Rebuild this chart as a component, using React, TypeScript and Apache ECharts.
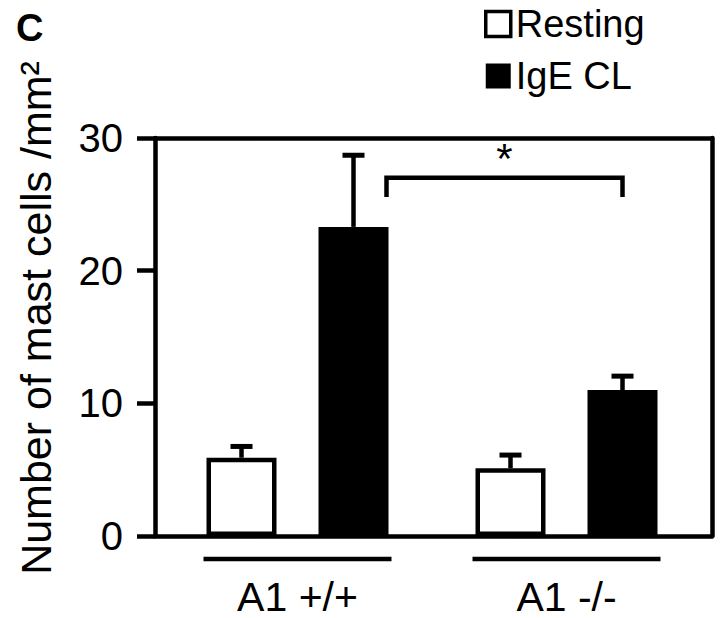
import React, { useEffect, useRef } from 'react';
import * as echarts from 'echarts';

const categories = ['A1 +/+', 'A1 -/-'];
const seriesNames = ['Resting', 'IgE CL'];
const resting = [5.9, 5.1];
const restingErr = [0.85, 1.0];
const igeCL = [23.3, 11.0];
const igeCLErr = [5.4, 1.05];
const yMin = 0;
const yMax = 30;
const yStep = 10;
const sigPair = [0, 1];
const sigLevel = 27.0;
const sigDrop = 1.45;
const sigMark = '*';
const panelLabel = 'C';
const yTitle = 'Number of mast cells /mm²';

const FONT = '"Liberation Sans", Arial, Helvetica, sans-serif';
const BAR_W = 70;
const BAR_GAP = 0.6;
const HALF_SPAN = (BAR_W * (1 + BAR_GAP)) / 2;
const LW = 4.5;

function errorRenderer(side: number) {
  return (_params: any, api: any) => {
    const c = api.value(0);
    const v = api.value(1);
    const e = api.value(2);
    const p0 = api.coord([c, v]);
    const p1 = api.coord([c, v + e]);
    const x = p0[0] + side * HALF_SPAN;
    return {
      type: 'group',
      children: [
        { type: 'line', shape: { x1: x, y1: p0[1], x2: x, y2: p1[1] }, style: { stroke: '#000', lineWidth: LW } },
        { type: 'line', shape: { x1: x - 11, y1: p1[1], x2: x + 11, y2: p1[1] }, style: { stroke: '#000', lineWidth: 5 } },
      ],
    };
  };
}

const bracketRender = (_params: any, api: any) => {
  const a = api.value(0);
  const b = api.value(1);
  const lvl = api.value(2);
  const drop = api.value(3);
  const pa = api.coord([a, lvl]);
  const pb = api.coord([b, lvl]);
  const pd = api.coord([a, lvl - drop]);
  const xa = pa[0] + HALF_SPAN + BAR_W / 2 - 2;
  const xb = pb[0] + HALF_SPAN;
  return {
    type: 'group',
    children: [
      {
        type: 'polyline',
        shape: { points: [[xa, pd[1]], [xa, pa[1]], [xb, pa[1]], [xb, pd[1]]] },
        style: { stroke: '#000', lineWidth: LW, fill: 'none' },
      },
      {
        type: 'text',
        x: (xa + xb) / 2,
        y: pa[1] - 19,
        style: { text: sigMark, fontSize: 42, fontFamily: FONT, fill: '#000', align: 'center', verticalAlign: 'middle' },
      },
    ],
  };
};

const underlineRender = (_params: any, api: any) => {
  const c = api.value(0);
  const p = api.coord([c, 0]);
  return {
    type: 'line',
    shape: { x1: p[0] - 94, y1: p[1] + 23, x2: p[0] + 94, y2: p[1] + 23 },
    style: { stroke: '#000', lineWidth: LW },
  };
};

export default function App() {
  const ref = useRef<HTMLDivElement>(null);
  useEffect(() => {
    document.body.style.margin = '0';
    const chart = echarts.init(ref.current!, undefined, { renderer: 'svg' });
    const axisLine = { show: true, onZero: false, lineStyle: { color: '#000', width: LW } };
    chart.setOption({
      animation: false,
      backgroundColor: '#fff',
      textStyle: { fontFamily: FONT, color: '#000' },
      grid: [
        { left: 155, right: 8, top: 138, bottom: 82 },
        { left: 163, right: 19, top: 138, bottom: 82 },
      ],
      legend: {
        orient: 'vertical',
        left: 479,
        top: 0,
        itemWidth: 25,
        itemHeight: 25,
        itemGap: 14,
        icon: 'rect',
        selectedMode: false,
        textStyle: { fontSize: 38, lineHeight: 36, color: '#000', fontFamily: FONT },
        data: [
          { name: seriesNames[0], itemStyle: { color: '#fff', borderColor: '#000', borderWidth: 3.5 } },
          { name: seriesNames[1], itemStyle: { color: '#000', borderWidth: 0 } },
        ],
      },
      xAxis: [
        { type: 'category', gridIndex: 0, data: categories, axisLine, axisTick: { show: false }, axisLabel: { show: false } },
        {
          type: 'category',
          gridIndex: 1,
          data: categories,
          axisLine: { show: false, onZero: false },
          axisTick: { show: false },
          axisLabel: { show: true, fontSize: 41, color: '#000', margin: 40, fontFamily: FONT },
        },
        { type: 'category', gridIndex: 0, position: 'top', data: categories, axisLine, axisTick: { show: false }, axisLabel: { show: false } },
      ],
      yAxis: [
        {
          type: 'value',
          gridIndex: 0,
          min: yMin,
          max: yMax,
          interval: yStep,
          axisLine,
          axisTick: { show: true, length: 18, lineStyle: { color: '#000', width: LW } },
          axisLabel: { fontSize: 40, color: '#000', margin: 32, fontFamily: FONT },
          splitLine: { show: false },
        },
        { type: 'value', gridIndex: 1, min: yMin, max: yMax, interval: yStep, show: false, splitLine: { show: false } },
        {
          type: 'value',
          gridIndex: 0,
          position: 'right',
          min: yMin,
          max: yMax,
          interval: yStep,
          axisLine,
          axisTick: { show: false },
          axisLabel: { show: false },
          splitLine: { show: false },
        },
      ],
      series: [
        {
          name: seriesNames[0],
          type: 'bar',
          xAxisIndex: 1,
          yAxisIndex: 1,
          data: resting,
          barWidth: BAR_W,
          barGap: BAR_GAP * 100 + '%',
          itemStyle: { color: '#fff', borderColor: '#000', borderWidth: LW },
        },
        {
          name: seriesNames[1],
          type: 'bar',
          xAxisIndex: 1,
          yAxisIndex: 1,
          data: igeCL,
          barWidth: BAR_W,
          barGap: BAR_GAP * 100 + '%',
          itemStyle: { color: '#000' },
        },
        {
          name: 'err-resting',
          type: 'custom',
          xAxisIndex: 1,
          yAxisIndex: 1,
          clip: false,
          data: categories.map((_, i) => [i, resting[i], restingErr[i]]),
          encode: { x: 0, y: 1 },
          renderItem: errorRenderer(-1),
          z: 3,
        },
        {
          name: 'err-ige',
          type: 'custom',
          xAxisIndex: 1,
          yAxisIndex: 1,
          clip: false,
          data: categories.map((_, i) => [i, igeCL[i], igeCLErr[i]]),
          encode: { x: 0, y: 1 },
          renderItem: errorRenderer(1),
          z: 3,
        },
        {
          name: 'bracket',
          type: 'custom',
          xAxisIndex: 1,
          yAxisIndex: 1,
          clip: false,
          data: [[sigPair[0], sigPair[1], sigLevel, sigDrop]],
          encode: { x: 0, y: 2 },
          renderItem: bracketRender,
        },
        {
          name: 'group-lines',
          type: 'custom',
          xAxisIndex: 1,
          yAxisIndex: 1,
          clip: false,
          data: categories.map((_, i) => [i, 0]),
          encode: { x: 0, y: 1 },
          renderItem: underlineRender,
        },
      ],
      graphic: [
        {
          type: 'text',
          x: 36,
          y: 318,
          rotation: Math.PI / 2,
          style: { text: yTitle, fontSize: 43, fontFamily: FONT, fill: '#000', align: 'center', verticalAlign: 'middle' },
        },
        {
          type: 'text',
          x: 16,
          y: 28,
          style: { text: panelLabel, fontSize: 38, fontWeight: 'bold', fontFamily: FONT, fill: '#000', align: 'left', verticalAlign: 'middle' },
        },
      ],
    });
    return () => chart.dispose();
  }, []);
  return <div ref={ref} style={{ width: 720, height: 618 }} />;
}
